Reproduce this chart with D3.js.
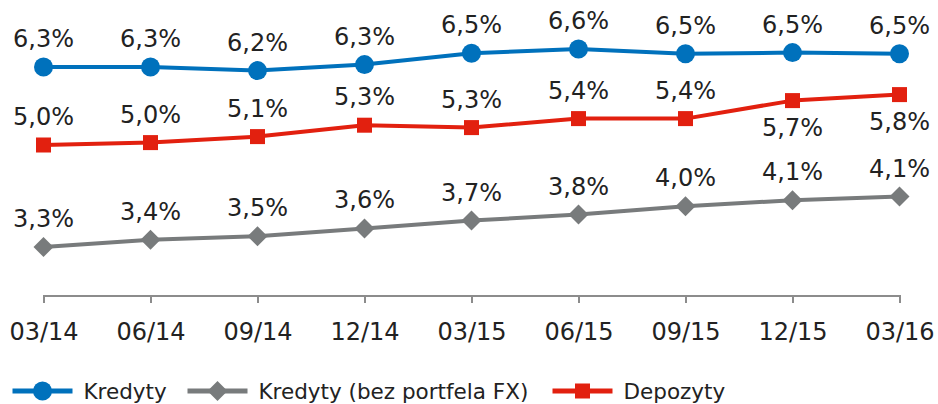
<!DOCTYPE html>
<html lang="pl">

<head>
    <meta charset="utf-8">
    <title>Kredyty i depozyty</title>
    <script src="https://cdn.jsdelivr.net/npm/d3@7"></script>
</head>
<style>
    body {
        margin: 0;
        background: #fff;
    }

    svg text {
        font-family: "DejaVu Sans", Verdana, sans-serif;
        fill: #222;
    }

    .axis path,
    .axis line {
        fill: none;
        stroke: #8c8c8c;
        stroke-width: 2;
        shape-rendering: crispEdges;
    }

    .axis text {
        font-size: 24px;
    }
</style>

<body>
    <script>
        // dane
        var categories = ["03/14", "06/14", "09/14", "12/14", "03/15", "06/15", "09/15", "12/15", "03/16"];
        var kredyty = [6.30, 6.30, 6.24, 6.34, 6.53, 6.60, 6.52, 6.54, 6.52];
        var kredytyBezFX = [3.30, 3.42, 3.48, 3.61, 3.74, 3.84, 3.98, 4.08, 4.14];
        var depozyty = [5.00, 5.04, 5.14, 5.33, 5.29, 5.44, 5.44, 5.74, 5.84];
        // etykiety pod linią dla ostatnich dwóch punktów depozytów
        var depozytyLabelBelow = [false, false, false, false, false, false, false, true, true];

        var width = 938;
        var height = 404;

        var svg = d3.select("body")
            .append("svg")
            .attr("width", width)
            .attr("height", height);

        var x = d3.scalePoint()
            .domain(categories)
            .range([43.5, 899.5]);

        var y = d3.scaleLinear()
            .domain([2.5, 7])
            .range([295, 25]);

        var fmt = function (v) {
            return d3.format(".1f")(v).replace(".", ",") + "%";
        };

        // oś X
        svg.append("g")
            .attr("class", "axis")
            .attr("transform", "translate(0," + y(2.5) + ")")
            .call(d3.axisBottom(x).tickSize(8).tickSizeOuter(8).tickPadding(20))
            .selectAll("text")
            .attr("fill", "#222");

        var series = [
            { name: "Kredyty", values: kredyty, color: "#0071BC", shape: "circle" },
            { name: "Kredyty (bez portfela FX)", values: kredytyBezFX, color: "#787B7C", shape: "diamond" },
            { name: "Depozyty", values: depozyty, color: "#E2200F", shape: "square", below: depozytyLabelBelow }
        ];

        var line = d3.line()
            .x(function (d, i) { return x(categories[i]); })
            .y(function (d) { return y(d); });

        function drawMarker(g, shape, color) {
            if (shape == "circle") {
                g.append("circle").attr("r", 9.5).attr("fill", color);
            } else if (shape == "square") {
                g.append("rect").attr("x", -7.5).attr("y", -7.5)
                    .attr("width", 15).attr("height", 15).attr("fill", color);
            } else {
                g.append("path").attr("d", "M0,-10L10,0L0,10L-10,0Z").attr("fill", color);
            }
        }

        series.forEach(function (s) {
            svg.append("path")
                .datum(s.values)
                .attr("fill", "none")
                .attr("stroke", s.color)
                .attr("stroke-width", 4)
                .attr("stroke-linejoin", "round")
                .attr("d", line);

            var pts = svg.selectAll(null)
                .data(s.values)
                .enter()
                .append("g")
                .attr("transform", function (d, i) {
                    return "translate(" + x(categories[i]) + "," + y(d) + ")";
                });

            pts.each(function () {
                drawMarker(d3.select(this), s.shape, s.color);
            });

            pts.append("text")
                .attr("text-anchor", "middle")
                .attr("font-size", "24px")
                .attr("y", function (d, i) {
                    return s.below && s.below[i] ? 35 : -20;
                })
                .text(function (d) { return fmt(d); });
        });

        // legenda
        var legendX = [12.5, 187.5, 552.5];
        var legend = svg.selectAll(".legend")
            .data(series)
            .enter()
            .append("g")
            .attr("class", "legend")
            .attr("transform", function (d, i) {
                return "translate(" + legendX[i] + ",391)";
            });

        legend.append("line")
            .attr("x1", 0).attr("x2", 60)
            .attr("stroke", function (d) { return d.color; })
            .attr("stroke-width", 5);

        legend.each(function (d) {
            var m = d3.select(this).append("g").attr("transform", "translate(30,0)");
            drawMarker(m, d.shape, d.color);
        });

        legend.append("text")
            .attr("x", 71)
            .attr("y", 8)
            .attr("font-size", "21.5px")
            .text(function (d) { return d.name; });
    </script>
</body>

</html>
